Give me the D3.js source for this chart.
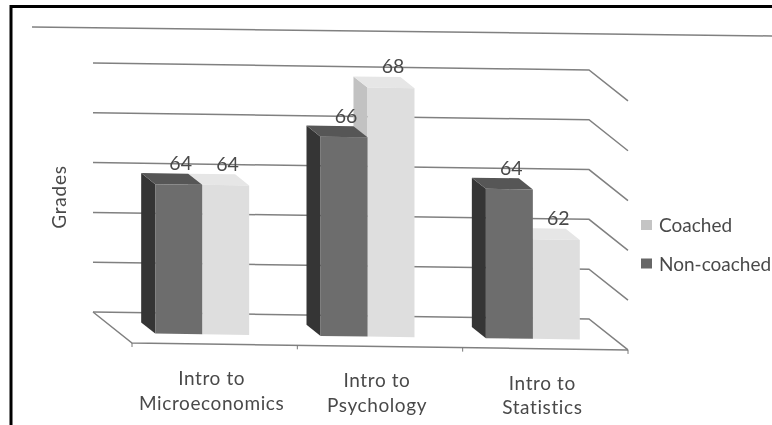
<!DOCTYPE html>
<html>
<head>
<meta charset="utf-8">
<script src="https://cdn.jsdelivr.net/npm/d3@7/dist/d3.min.js"></script>
<style>
  html, body { margin: 0; padding: 0; background: #fff; overflow: hidden; }
  text { font-family: Lato, "Open Sans", sans-serif; fill: #4a4a4a; }
</style>
</head>
<body>
<svg id="sg"></svg>
<script>
const categories = ["Intro to Microeconomics", "Intro to Psychology", "Intro to Statistics"];
const categoryLines = [["Intro to", "Microeconomics"], ["Intro to", "Psychology"], ["Intro to", "Statistics"]];
const seriesNames = ["Non-coached", "Coached"];
const nonCoached = [64, 66, 64];
const coached = [64, 68, 62];
const gridValues = [58, 60, 62, 64, 66, 68];
const legendNames = ["Coached", "Non-coached"];

const svgWidth = 772, svgHeight = 425;
const colors = {
  "Non-coached": { front: "#6d6d6d", side: "#343434", top: "#565656", legend: "#666" },
  "Coached": { front: "#dedede", side: "#c2c2c2", top: "#e6e6e6", legend: "#c4c4c4" }
};

let svg = d3.select("#sg").attr("width", svgWidth).attr("height", svgHeight);

let defs = svg.append("defs");
defs.append("filter").attr("id", "scan")
  .attr("x", "-5%").attr("y", "-5%").attr("width", "110%").attr("height", "110%")
  .append("feGaussianBlur").attr("stdDeviation", 0.7);

// page frame left over from the scan
svg.append("path").attr("d", "M11,425V6.5H772")
  .attr("fill", "none").attr("stroke", "#000").attr("stroke-width", 3);

let g = svg.append("g").attr("filter", "url(#scan)");

// rule across the page above the chart
g.append("line").attr("x1", 32).attr("y1", 27).attr("x2", 772).attr("y2", 36)
  .attr("stroke", "#808080").attr("stroke-width", 1.5);

let x = d3.scaleBand().domain(categories).range([132, 628]);
let xSeries = d3.scaleBand().domain(seriesNames).range([0, x.bandwidth()]).paddingInner(0).paddingOuter(0.76);
let y = d3.scaleLinear().domain([58, 68]).range([0, -249]);

// oblique projection: d = 0 is the front of the floor, d = 1 the back wall
const depthX = 39, depthY = 31, slope = 0.014;
function project(px, value, d) {
  return [px - depthX * d, 343 + slope * (px - 132) - depthY * d + y(value)];
}
let line = d3.line();

let [x0, x1] = x.range();

// floor
g.append("path")
  .attr("d", line([project(x0, 58, 1), project(x0, 58, 0), project(x1, 58, 0)]))
  .attr("fill", "none").attr("stroke", "#808080").attr("stroke-width", 1.5);

// grid lines, back wall then right side
g.selectAll(".grid").data(gridValues).enter().append("path")
  .attr("class", "grid")
  .attr("d", v => line([project(x0, v, 1), project(x1, v, 1), project(x1, v, 0)]))
  .attr("fill", "none").attr("stroke", "#808080").attr("stroke-width", 1.5);

// axis ticks on category boundaries
let boundaries = categories.map(c => x(c)).concat([x1]);
g.selectAll(".tick").data(boundaries).enter().append("path")
  .attr("class", "tick")
  .attr("d", b => { let p = project(b, 58, 0); return line([p, [p[0], p[1] + 4]]); })
  .attr("stroke", "#777").attr("stroke-width", 1);

// bars, coached first so the non-coached box sits in front of its side face
const dFront = 0.32, dBack = 0.68;
function drawBar(parent, cat, name, value) {
  let a = x(cat) + xSeries(name), b = a + xSeries.bandwidth();
  let c = colors[name];
  let poly = (pts, fill) => parent.append("path").attr("d", line(pts) + "Z").attr("fill", fill);
  poly([project(a, 58, dBack), project(a, 58, dFront), project(a, value, dFront), project(a, value, dBack)], c.side);
  poly([project(a, value, dBack), project(b, value, dBack), project(b, value, dFront), project(a, value, dFront)], c.top);
  poly([project(a, 58, dFront), project(b, 58, dFront), project(b, value, dFront), project(a, value, dFront)], c.front);
}
categories.forEach((cat, i) => {
  let bar = g.append("g");
  drawBar(bar, cat, "Coached", coached[i]);
  drawBar(bar, cat, "Non-coached", nonCoached[i]);
});

// value labels
[["Non-coached", nonCoached], ["Coached", coached]].forEach(([name, values]) => {
  g.selectAll(".lab" + name).data(values).enter().append("text")
    .attr("x", (v, i) => project(x(categories[i]) + xSeries(name) + xSeries.bandwidth() / 2, v, dBack)[0] + 16)
    .attr("y", (v, i) => project(x(categories[i]) + xSeries(name), v, dBack)[1] - 3)
    .attr("text-anchor", "middle")
    .attr("font-size", 19.5)
    .text(v => v);
});

// category labels
categories.forEach((cat, i) => {
  let cx = x(cat) + x.bandwidth() / 2 - 3;
  let t = g.append("text").attr("text-anchor", "middle").attr("font-size", 19).attr("letter-spacing", 0.6);
  categoryLines[i].forEach((l, j) => {
    t.append("tspan").attr("x", cx)
      .attr("y", project(cx, 58, 0)[1] + 41 + j * 24.5)
      .text(l);
  });
});

// y title
g.append("text")
  .attr("transform", "translate(66,197) rotate(-90)")
  .attr("text-anchor", "middle")
  .attr("font-size", 19)
  .attr("letter-spacing", 0.8)
  .text("Grades");

// legend
let legend = g.selectAll(".legend").data(legendNames).enter().append("g")
  .attr("class", "legend")
  .attr("transform", (d, i) => "translate(641," + (220 + i * 38.5) + ")");
legend.append("rect").attr("width", 11).attr("height", 10).attr("fill", d => colors[d].legend);
legend.append("text").attr("x", 18).attr("y", 12).attr("font-size", 19).text(d => d);
</script>
</body>
</html>
